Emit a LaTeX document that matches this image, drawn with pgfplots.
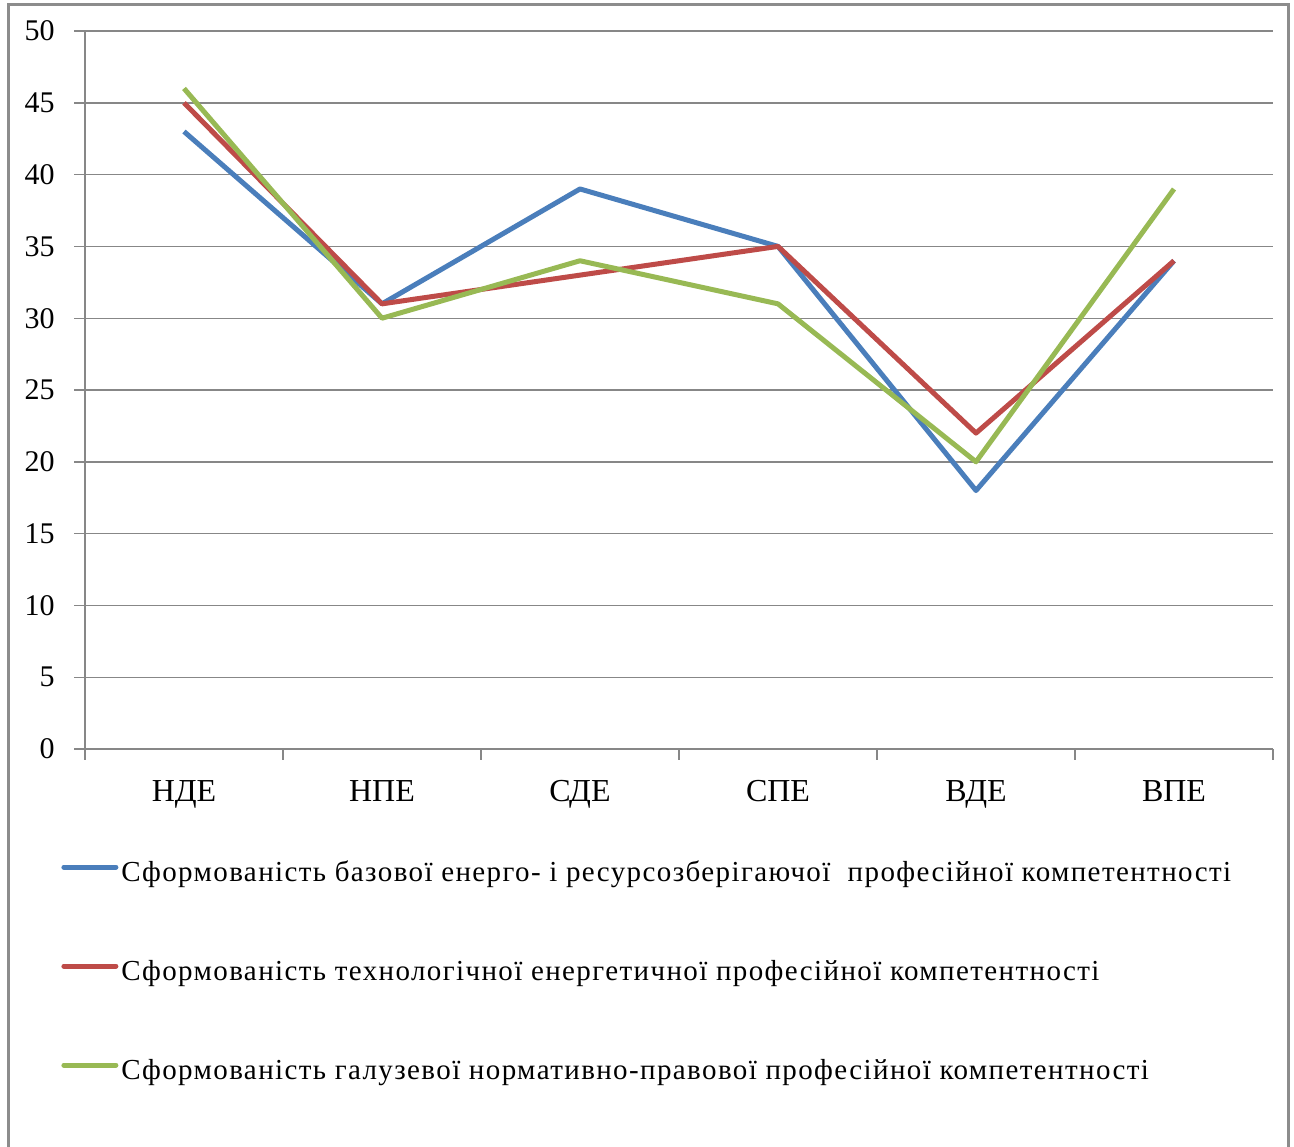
\documentclass[border=0pt]{standalone}
\usepackage{fontspec}
\setmainfont{Liberation Serif}
\usepackage{pgfplots}
\usepackage{pgfplotstable}
\pgfplotsset{compat=1.18}

\definecolor{serblue}{HTML}{4A7EBB}
\definecolor{serred}{HTML}{BE4B48}
\definecolor{sergreen}{HTML}{98B954}
\definecolor{gridgray}{HTML}{878787}
\definecolor{framegray}{HTML}{8C8C8C}

% levels: 0 = НДЕ, 1 = НПЕ, 2 = СДЕ, 3 = СПЕ, 4 = ВДЕ, 5 = ВПЕ
\pgfplotstableread{
x  base  tech  norm
0  43    45    46
1  31    31    30
2  39    33    34
3  35    35    31
4  18    22    20
5  34    34    39
}\levels

\begin{document}
\begin{tikzpicture}[x=1pt,y=1pt]
\useasboundingbox (0,0) rectangle (647,573);
\draw[line width=1.5pt, color=framegray] (4,-10) -- (4,570.5) -- (644,570.5) -- (644,-10);
\begin{axis}[
  at={(42.5pt,198.5pt)}, anchor=south west,
  scale only axis, width=594pt, height=359pt,
  xmin=-0.5, xmax=5.5, ymin=0, ymax=50,
  axis lines*=left,
  axis line style={gridgray, line width=0.7pt, -},
  % labels sit on the major ticks, the visible marks are minor ticks
  xtick={0,...,5},
  xticklabels={НДЕ,НПЕ,СДЕ,СПЕ,ВДЕ,ВПЕ},
  minor xtick={-0.5,0.5,...,5.5},
  ytick={0,5,...,50},
  minor ytick={0,5,...,50},
  tick align=outside,
  major tick length=0pt, minor tick length=5.25pt,
  tick style={gridgray, line width=0.7pt},
  ymajorgrids,
  major grid style={gridgray, line width=0.7pt},
  tick label style={font=\fontsize{15}{18}\selectfont},
  /pgf/number format/assume math mode=true,
  xticklabel style={inner sep=0pt, yshift=-15.5pt, font=\fontsize{16}{18}\selectfont},
  yticklabel style={inner sep=0pt, xshift=-15pt},
  legend style={
    at={(-0.0202,-0.312)}, anchor=west,
    draw=none, fill=none, inner sep=0pt,
    font=\fontsize{14.5}{16}\selectfont\addfontfeature{LetterSpace=4.8},
    row sep=36.5pt, column sep=1.5pt,
    nodes={inner sep=0pt, text height=10pt, text depth=3pt},
  },
  legend cell align=left,
  legend image code/.code={\draw[#1, line cap=round] (1.25pt,3.5pt) -- (27.25pt,3.5pt);},
  every axis plot/.append style={line width=2.5pt, line join=round},
]
\addplot[serblue] table[x=x, y=base] {\levels};
\addplot[serred] table[x=x, y=tech] {\levels};
\addplot[sergreen] table[x=x, y=norm] {\levels};
\legend{Сформованість базової енерго- і ресурсозберігаючої\ \ професійної компетентності,
        Сформованість технологічної енергетичної професійної компетентності,
        Сформованість галузевої нормативно-правової професійної компетентності}
\end{axis}
\end{tikzpicture}
\end{document}
